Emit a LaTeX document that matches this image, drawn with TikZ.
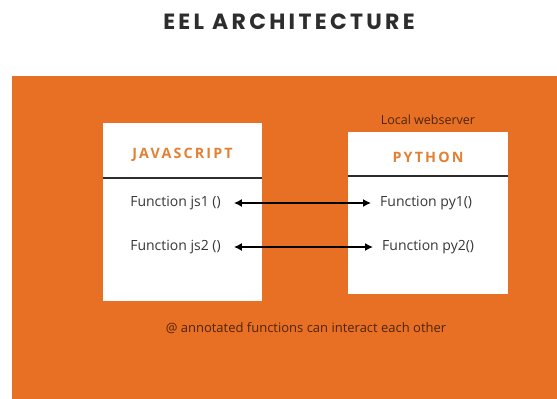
\documentclass[tikz,border=0pt]{standalone}
\usepackage{xcolor}
\usepackage{fontspec}
\usepackage{tikz}
\usetikzlibrary{arrows.meta,positioning,calc}
\setmainfont{Open Sans}
\newfontfamily\titlefont[LetterSpace=15]{Poppins}
\newfontfamily\headfont[LetterSpace=15]{Open Sans}
\definecolor{eelorange}{RGB}{231,112,36}
\definecolor{headorange}{RGB}{226,128,52}
\definecolor{titlegray}{RGB}{45,45,45}
\definecolor{textgray}{RGB}{55,55,55}
\definecolor{notebrown}{RGB}{80,36,8}
\tikzset{
  langbox/.style={draw=none, fill=white, inner sep=0pt},
  langhead/.style={font=\headfont\bfseries\fontsize{14.3}{16}\selectfont, text=headorange},
  funcnode/.style={font=\fontsize{14}{16}\selectfont, text=textgray, inner sep=0pt},
  sepline/.style={line width=1.6pt, draw=titlegray},
  callflow/.style={{Latex[length=8pt,width=8pt]}-{Latex[length=8pt,width=8pt]}, line width=1.4pt, black}
}
\begin{document}
\begin{tikzpicture}[x=1pt,y=-1pt]
\useasboundingbox (0,0) rectangle (557,399);
\fill[eelorange] (12,76) rectangle (557,399);

\node[font=\titlefont\bfseries\fontsize{22}{25}\selectfont, text=titlegray] (title) at (289,22) {EEL ARCHITECTURE};

\node[langbox, minimum width=159pt, minimum height=178pt] (jsbox) at (182.5,212) {};
\node[langbox, minimum width=160pt, minimum height=162pt] (pybox) at (428,213) {};

\node[langhead] (jshead) at (182.5,155) {JAVASCRIPT};
\node[langhead] (pyhead) at (428,157) {PYTHON};
\node[font=\fontsize{12.5}{14}\selectfont, text=notebrown, above=4pt of pybox.north] (server) {Local webserver};

\draw[sepline] ([yshift=-55pt]jsbox.north west) -- ([yshift=-55pt]jsbox.north east);
\draw[sepline] ([yshift=-44pt]pybox.north west) -- ([yshift=-44pt]pybox.north east);

\node[funcnode] (js1) at (175.5,203) {Function js1 ()};
\node[funcnode] (js2) at (175.5,247) {Function js2 ()};
\node[funcnode, anchor=west] (py1) at (380,203) {Function py1()};
\node[funcnode, anchor=west] (py2) at (382,247) {Function py2()};

\draw[callflow, shorten <=13pt, shorten >=9pt] (js1.east) -- (js1.east -| py1.west);
\draw[callflow, shorten <=13pt, shorten >=9pt] (js2.east) -- (js2.east -| py2.west);

\node[font=\fontsize{13}{15}\selectfont, text=notebrown] (note) at (306,328) {@ annotated functions can interact each other};
\end{tikzpicture}
\end{document}
